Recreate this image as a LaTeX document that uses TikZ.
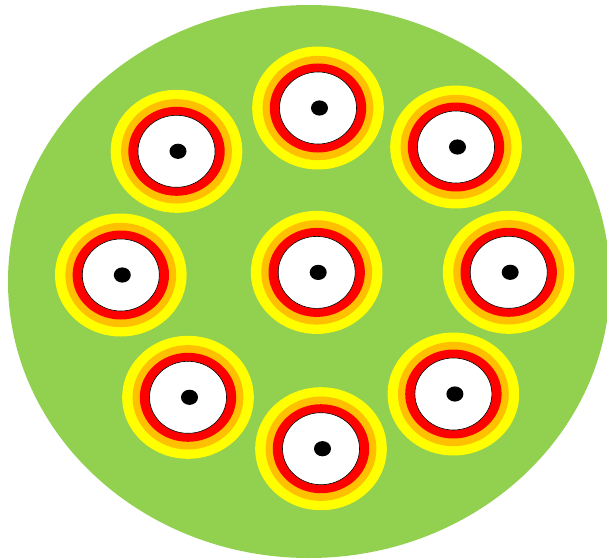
\documentclass[tikz,border=0pt]{standalone}
\definecolor{leafgreen}{HTML}{92D050}
\definecolor{ringyellow}{HTML}{FFFF00}
\definecolor{ringorange}{HTML}{FFC000}
\definecolor{ringred}{HTML}{FF0000}
\begin{document}
\begin{tikzpicture}[x=1pt,y=-1pt]
    \useasboundingbox (0,0) rectangle (607,559);
    \coordinate (O) at (309,281.5);
    \fill[leafgreen] (O) ellipse (301pt and 276.5pt);
    % centres of the nine rings
    \coordinate (T) at (318,108);
    \coordinate (TL) at (176.5,151.3);
    \coordinate (TR) at (456,147);
    \coordinate (L) at (120.8,275);
    \coordinate (M) at (316.7,272.4);
    \coordinate (R) at (508.7,272.3);
    \coordinate (BL) at (188,397.3);
    \coordinate (B) at (321,448.7);
    \coordinate (BR) at (453.4,394);
    \foreach \c in {T,TL,TR,L,M,R,BL,B,BR}{
        \fill[ringyellow] (\c) ellipse (65.8pt and 61.5pt);
        \fill[ringorange] (\c) ellipse (55.4pt and 52.2pt);
        \fill[ringred] (\c) ellipse (48.2pt and 44.5pt);
        \filldraw[fill=white, draw=black, line width=0.6pt] (\c) ellipse (38.5pt and 36pt);
        \fill ([xshift=1.5pt]\c) ellipse (8.5pt and 7.6pt);
    }
\end{tikzpicture}
\end{document}
